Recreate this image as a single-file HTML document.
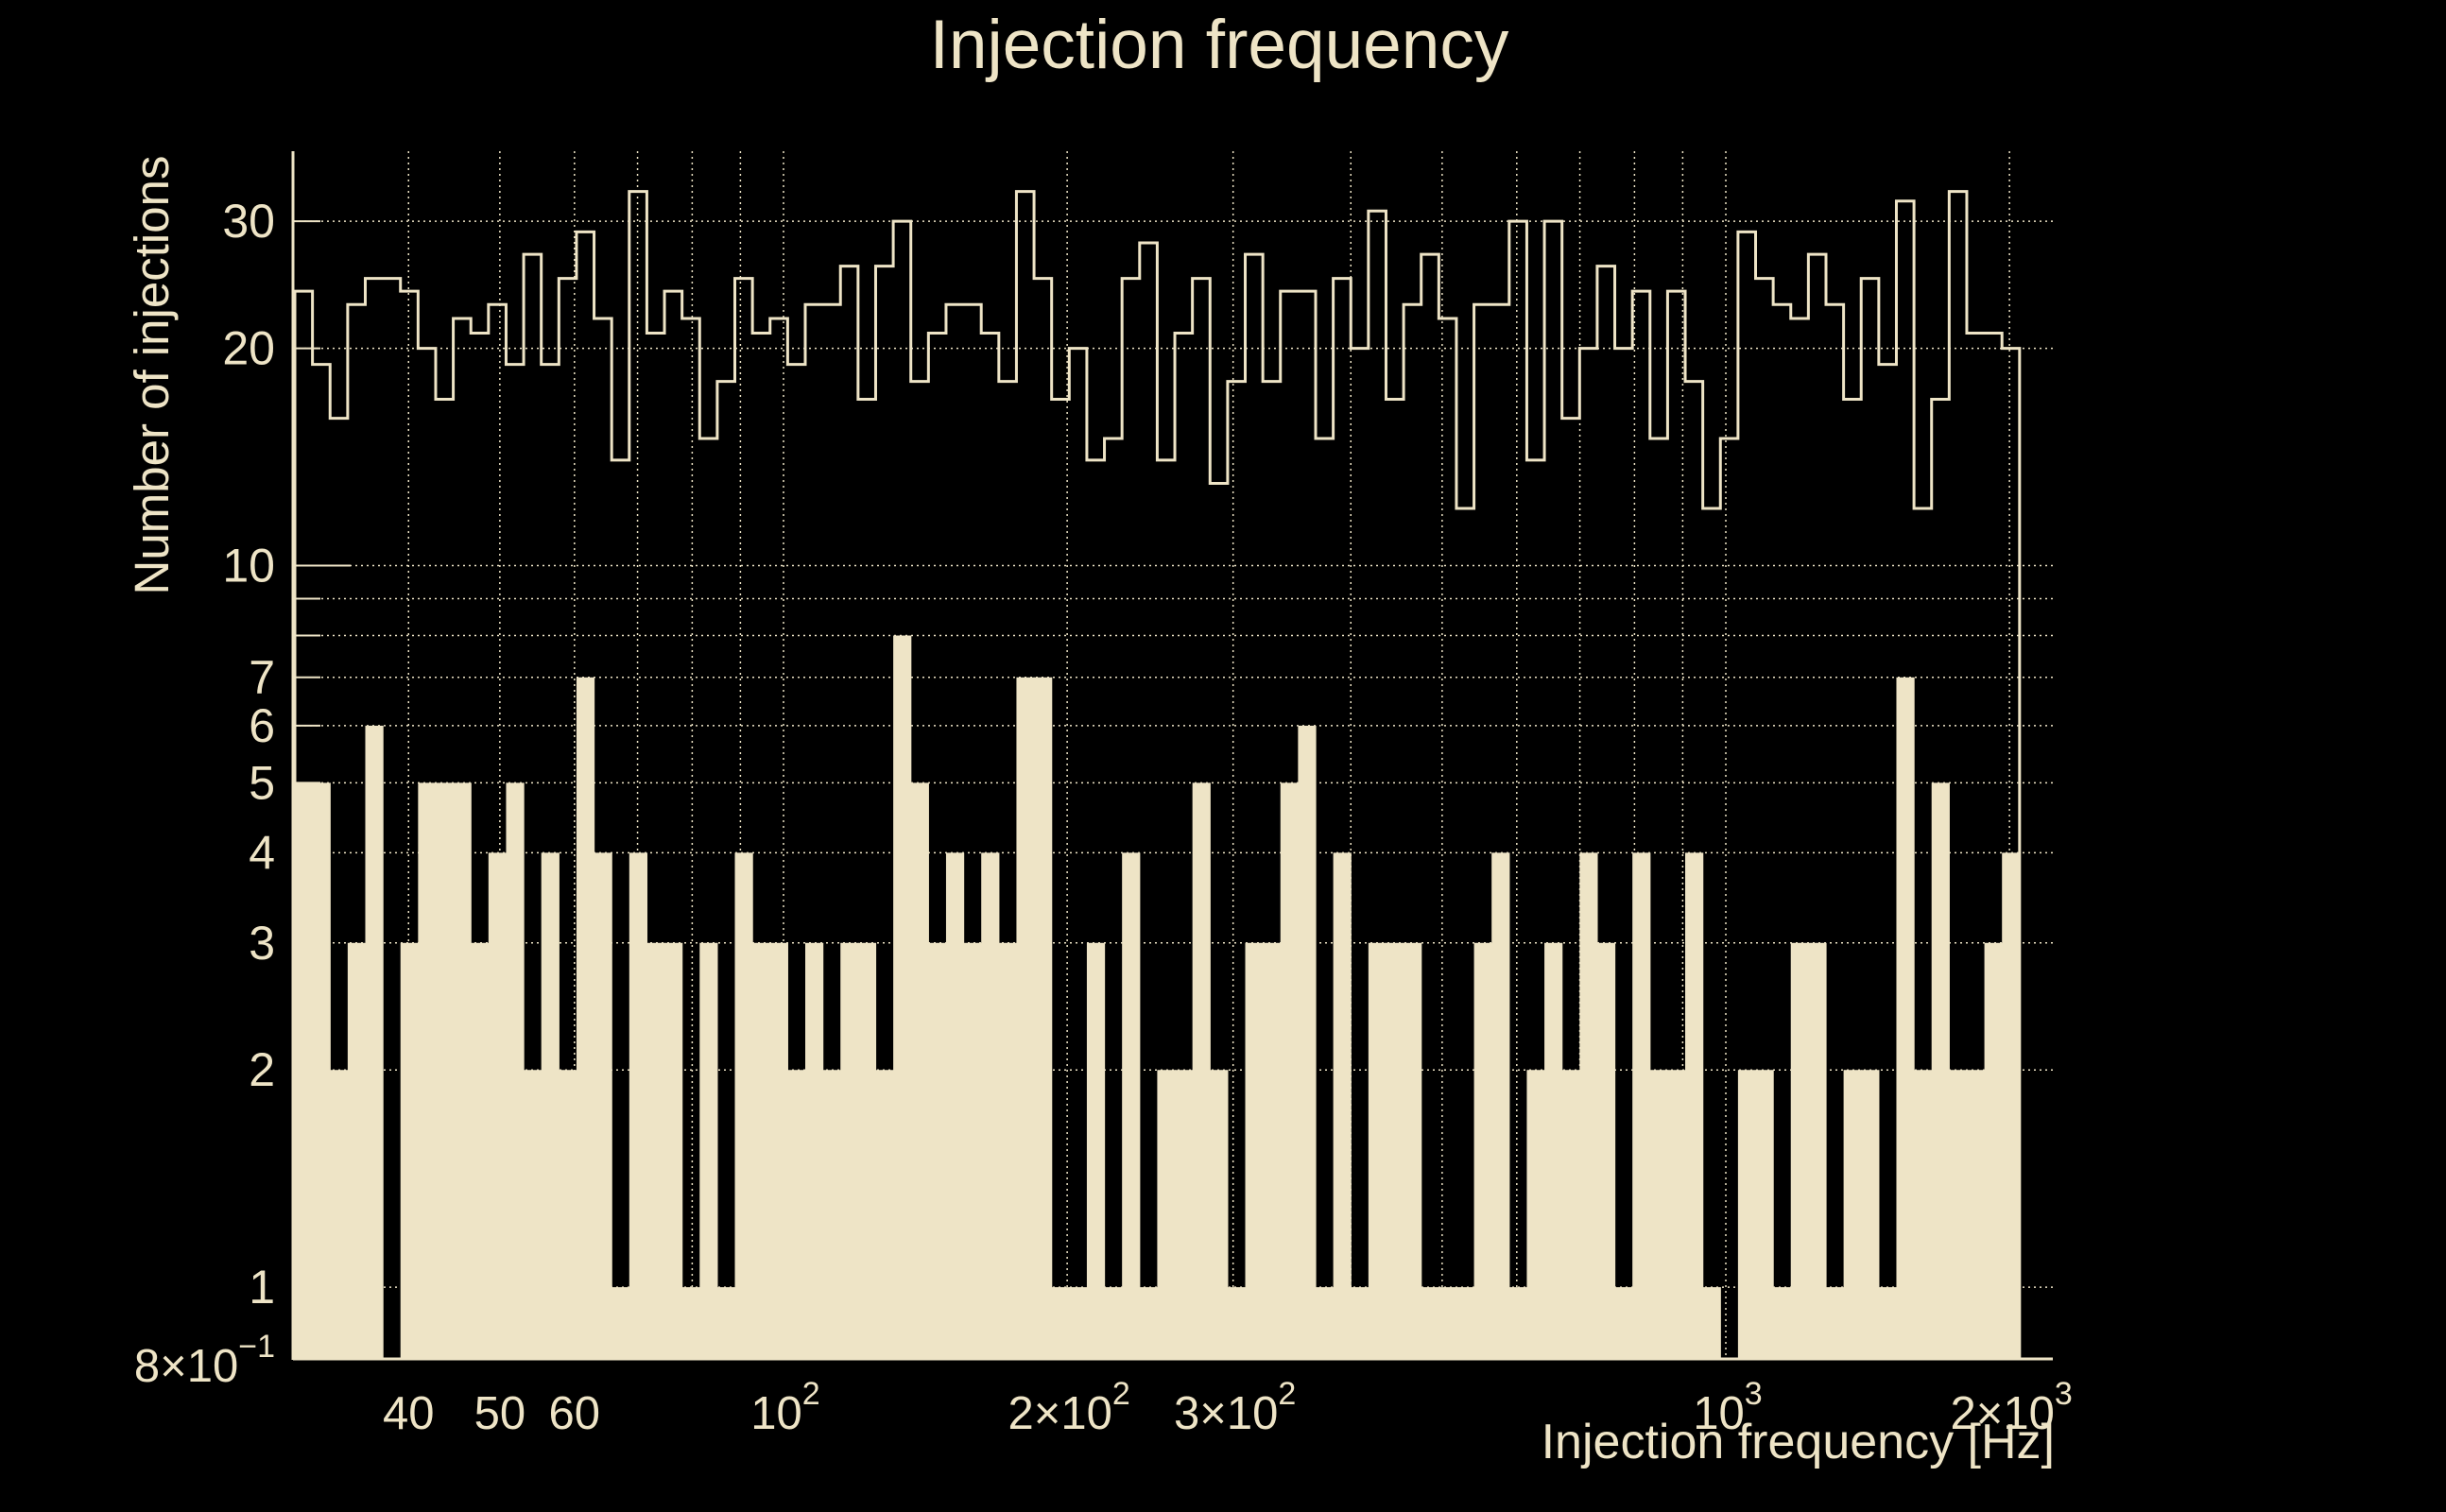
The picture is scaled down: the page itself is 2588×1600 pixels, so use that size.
<!DOCTYPE html>
<html><head><meta charset="utf-8"><style>
html,body{margin:0;padding:0;background:#000;}
svg{display:block;}
text{font-family:"Liberation Sans",Arial,sans-serif;fill:#eee4c6;}
</style></head><body>
<svg id="chart" width="2588" height="1600" viewBox="0 0 2588 1600" xmlns="http://www.w3.org/2000/svg">
<rect width="2588" height="1600" fill="#000"/>
<g id="grid"></g>
<g id="bars"></g>
<g id="line"></g>
<g id="axes"></g>
<text x="1290" y="72" font-size="73" text-anchor="middle">Injection frequency</text>
<text transform="translate(178,397) rotate(-90)" font-size="51" text-anchor="middle">Number of injections</text>
<text x="2174" y="1543" font-size="52" text-anchor="end">Injection frequency [Hz]</text>
</svg>
<script>
const binLo = 30.3;
const binHi = 2050;
const lineCounts = [24,19,16,23,25,25,24,20,17,22,21,23,19,27,19,25,29,22,14,33,21,24,22,15,18,
25,21,22,19,23,23,26,17,26,30,18,21,23,23,21,18,33,25,17,20,14,15,25,28,14,
21,25,13,18,27,18,24,24,15,25,20,31,17,23,27,22,12,23,23,30,14,30,16,20,26,
20,24,15,24,18,12,15,29,25,23,22,27,23,17,25,19,32,12,17,33,21,21,20];
const barCounts = [5,5,2,3,6,0,3,5,5,5,3,4,5,2,4,2,7,4,1,4,3,3,1,3,1,
4,3,3,2,3,2,3,3,2,8,5,3,4,3,4,3,7,7,1,1,3,1,4,1,2,
2,5,2,1,3,3,5,6,1,4,1,3,3,3,1,1,1,3,4,1,2,3,2,4,3,
1,4,2,2,4,1,0,2,2,1,3,3,1,2,2,1,7,2,5,2,2,3,4];
const yTickValues = [30,20,10,7,6,5,4,3,2,1];
const yMinorValues = [9,8];
const xGridValues = [40,50,60,70,80,90,100,200,300,400,500,600,700,800,900,1000,2000];
const xTickLabels = [[40,"40",""],[50,"50",""],[60,"60",""],[100,"10","2"],[200,"2×10","2"],[300,"3×10","2"],[1000,"10","3"],[2000,"2×10","3"]];

const NS = "http://www.w3.org/2000/svg";
const C = "#eee4c6";
const L = 310, R = 2172, T = 160, B = 1438;
function X(f){ return 829 + 997*Math.log10(f/100); }
function Y(v){ return 598.5 - 763.6*Math.log10(v/10); }
function mk(tag, attrs, parent){
  const e = document.createElementNS(NS, tag);
  for (const k in attrs) e.setAttribute(k, attrs[k]);
  parent.appendChild(e); return e;
}
const grid = document.getElementById('grid');
const bars = document.getElementById('bars');
const line = document.getElementById('line');
const axes = document.getElementById('axes');

yTickValues.concat(yMinorValues).forEach(v=>{
  const g = mk('line',{x1:L,x2:R,y1:Y(v),y2:Y(v),stroke:C,'stroke-width':1.5,'stroke-dasharray':'2 4'},grid);
  
  
});
xGridValues.forEach(f=>{
  const g = mk('line',{x1:X(f),x2:X(f),y1:T,y2:B,stroke:C,'stroke-width':1.5,'stroke-dasharray':'2 4'},grid);
  
  
});

const n = barCounts.length;
function edge(i){ return binLo*Math.pow(binHi/binLo, i/n); }

barCounts.forEach((v,i)=>{
  if (v <= 0) return;
  const x0 = X(edge(i)), x1 = X(edge(i+1));
  const r = mk('rect',{x:x0,y:Y(v),width:x1-x0+0.6,height:B-Y(v),fill:C},bars);
  
  
});

let d = 'M'+X(edge(0))+','+B;
lineCounts.forEach((v,i)=>{
  d += ' V'+Y(v)+' H'+X(edge(i+1));
});
d += ' V'+B;
const p = mk('path',{d:d,fill:'none',stroke:C,'stroke-width':3,'stroke-linejoin':'miter'},line);



const ya = mk('line',{x1:L,x2:L,y1:T,y2:B+1,stroke:C,'stroke-width':3},axes);


const xa = mk('line',{x1:L,x2:R,y1:B,y2:B,stroke:C,'stroke-width':3},axes);



yTickValues.concat(yMinorValues).forEach(v=>{
  const len = (v===10)?61:29;
  const t = mk('line',{x1:L,x2:L+len,y1:Y(v),y2:Y(v),stroke:C,'stroke-width':2},axes);
  
  
});
yTickValues.forEach(v=>{
  const t = mk('text',{x:291,y:Y(v)+17,'font-size':50,'text-anchor':'end'},axes);
  t.textContent = String(v);
  
  
});
const bl = mk('text',{x:291,y:1462,'font-size':49,'text-anchor':'end'},axes);


const b1 = mk('tspan',{},bl); b1.textContent='8×10';
const b2 = mk('tspan',{dy:-26,'font-size':34},bl); b2.textContent='−1';

xTickLabels.forEach(([f,base,sup])=>{
  const t = mk('text',{x:X(f)+(sup?2:0),y:1512,'font-size':49,'text-anchor':'middle'},axes);
  
  
  const s1 = mk('tspan',{},t); s1.textContent = base;
  if (sup){ const s2 = mk('tspan',{dy:-26,'font-size':34},t); s2.textContent = sup; }
});
</script>
</body></html>
